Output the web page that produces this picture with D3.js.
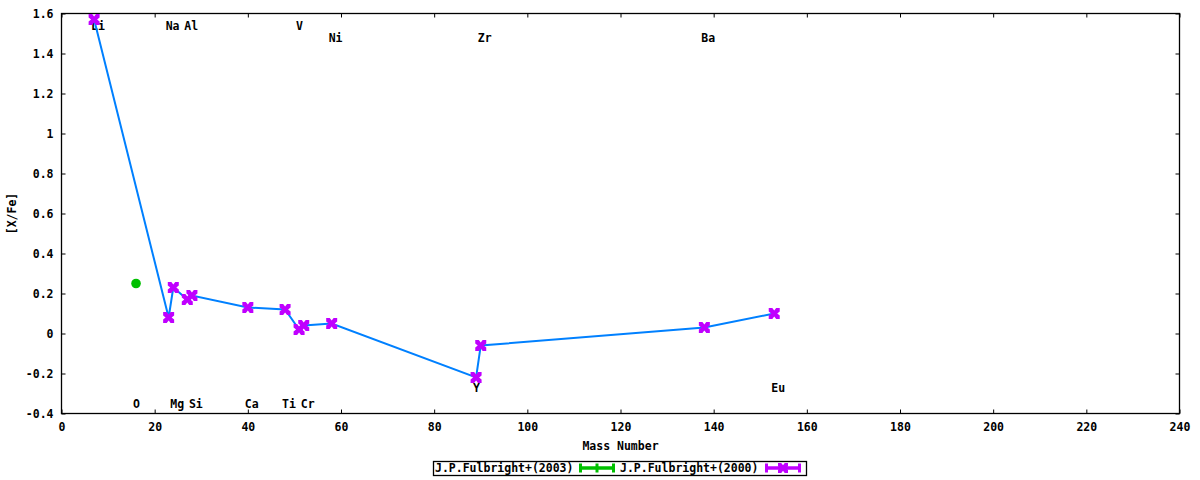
<!DOCTYPE html>
<html>
<head>
<meta charset="utf-8">
<script src="https://cdn.jsdelivr.net/npm/d3@7"></script>
<style>
  body { margin: 0; background: #fff; }
  text { font-family: "DejaVu Sans Mono", monospace; font-weight: bold; font-size: 11.5px; fill: #000; }
</style>
</head>
<body>
<script>
// ---- data ----
var fulb2003Mass = [16];
var fulb2003Value = [0.25];

var fulb2000Mass = [7, 23, 24, 27, 28, 40, 48, 51, 52, 58, 89, 90, 138, 153];
var fulb2000Value = [1.57, 0.08, 0.23, 0.17, 0.19, 0.13, 0.12, 0.02, 0.04, 0.05, -0.22, -0.06, 0.03, 0.10];

// element labels (name, mass, label y in data units)
var labelNames = ['Li', 'O', 'Na', 'Mg', 'Al', 'Si', 'Ca', 'Ti', 'V', 'Cr', 'Ni', 'Y', 'Zr', 'Ba', 'Eu'];
var labelMass  = [7, 16, 23, 24, 27, 28, 40, 48, 51, 52, 58, 89, 90, 138, 153];
var labelY     = [1.54, -0.35, 1.54, -0.35, 1.54, -0.35, -0.35, -0.35, 1.54, -0.35, 1.48, -0.27, 1.48, 1.48, -0.27];

var xTicks = [0, 20, 40, 60, 80, 100, 120, 140, 160, 180, 200, 220, 240];
var yTicks = [-0.4, -0.2, 0, 0.2, 0.4, 0.6, 0.8, 1, 1.2, 1.4, 1.6];

var legendNames = ['J.P.Fulbright+(2003)', 'J.P.Fulbright+(2000)'];

var GREEN = '#00c000';
var PURPLE = '#c000ff';
var BLUE = '#0080ff';

var W = 1200, H = 480;
var plotL = 61.5, plotR = 1179.5, plotT = 13.5, plotB = 413.5;

var x = d3.scaleLinear().domain([0, 240]).range([plotL, plotR]);
var y = d3.scaleLinear().domain([-0.4, 1.6]).range([plotB, plotT]);

var svg = d3.select('body').append('svg')
  .attr('width', W)
  .attr('height', H);

// ---- axes (gnuplot style, inward ticks, mirrored) ----
var TICK = 4;
function clean(g) {
  g.select('.domain').remove();
  g.selectAll('text').attr('font-size', null).attr('font-family', null).attr('fill', null);
}
svg.append('g')
  .attr('transform', 'translate(0,' + plotB + ')')
  .call(d3.axisBottom(x).tickValues(xTicks).tickSize(-TICK).tickPadding(9).tickFormat(d3.format('d')))
  .call(clean);
svg.append('g')
  .attr('transform', 'translate(0,' + plotT + ')')
  .call(d3.axisTop(x).tickValues(xTicks).tickSize(-TICK).tickFormat(''))
  .call(clean);
svg.append('g')
  .attr('transform', 'translate(' + plotL + ',0)')
  .call(d3.axisLeft(y).tickValues(yTicks).tickSize(-TICK).tickPadding(8).tickFormat(function(d) { return String(+d.toFixed(1)); }))
  .call(clean);
svg.append('g')
  .attr('transform', 'translate(' + plotR + ',0)')
  .call(d3.axisRight(y).tickValues(yTicks).tickSize(-TICK).tickFormat(''))
  .call(clean);

svg.selectAll('.tick line').attr('stroke', '#000');

svg.append('rect')
  .attr('x', plotL).attr('y', plotT)
  .attr('width', plotR - plotL).attr('height', plotB - plotT)
  .attr('fill', 'none').attr('stroke', '#000').attr('stroke-width', 1.3);

// axis titles
svg.append('text')
  .attr('x', (plotL + plotR) / 2).attr('y', 450)
  .attr('text-anchor', 'middle')
  .text('Mass Number');
svg.append('text')
  .attr('transform', 'translate(16,' + ((plotT + plotB) / 2) + ') rotate(-90)')
  .attr('text-anchor', 'middle')
  .text('[X/Fe]');

// ---- element labels ----
svg.selectAll('.elem')
  .data(labelNames)
  .enter().append('text')
  .attr('class', 'elem')
  .attr('x', function(d, i) { return x(labelMass[i]) - 3; })
  .attr('y', function(d, i) { return y(labelY[i]) + 4; })
  .text(function(d) { return d; });

// ---- marker shapes ----
// filled square with notched sides, like gnuplot's solid cross
function xMarker(cx, cy, s) {
  var a = s, b = s * 0.35, c = s * 0.55;
  var pts = [[-a, -a], [-b, -a], [0, -c], [b, -a], [a, -a], [a, -b], [c, 0], [a, b], [a, a], [b, a], [0, c], [-b, a], [-a, a], [-a, b], [-c, 0], [-a, -b]];
  return 'M' + pts.map(function(p) { return (cx + p[0]) + ',' + (cy + p[1]); }).join('L') + 'Z';
}

// ---- Fulbright 2000 line + points ----
var pts2000 = fulb2000Mass.map(function(m, i) { return [m, fulb2000Value[i]]; });
svg.append('path')
  .datum(pts2000)
  .attr('fill', 'none')
  .attr('stroke', BLUE)
  .attr('stroke-width', 2)
  .attr('d', d3.line().x(function(d) { return x(d[0]); }).y(function(d) { return y(d[1]); }));

svg.selectAll('.p2000')
  .data(pts2000)
  .enter().append('path')
  .attr('class', 'p2000')
  .attr('fill', PURPLE)
  .attr('d', function(d) { return xMarker(x(d[0]), y(d[1]), 5.5); });

// ---- Fulbright 2003 point ----
svg.selectAll('.p2003')
  .data(fulb2003Mass)
  .enter().append('circle')
  .attr('class', 'p2003')
  .attr('cx', function(d) { return x(d); })
  .attr('cy', function(d, i) { return y(fulb2003Value[i]); })
  .attr('r', 4.8)
  .attr('fill', GREEN);

// ---- legend ----
var lg = svg.append('g');
lg.append('rect')
  .attr('x', 433.5).attr('y', 461.5).attr('width', 373).attr('height', 14)
  .attr('fill', 'none').attr('stroke', '#000').attr('stroke-width', 1.3);

function sample(x0, x1, yc, color, mid) {
  lg.append('line').attr('x1', x0).attr('x2', x1).attr('y1', yc).attr('y2', yc)
    .attr('stroke', color).attr('stroke-width', 3.5);
  [x0 + 1.5, x1 - 1.5].forEach(function(xx) {
    lg.append('line').attr('x1', xx).attr('x2', xx).attr('y1', yc - 4.5).attr('y2', yc + 4.5)
      .attr('stroke', color).attr('stroke-width', 3);
  });
  if (mid === 'bar') {
    lg.append('line').attr('x1', (x0 + x1) / 2).attr('x2', (x0 + x1) / 2).attr('y1', yc - 4.5).attr('y2', yc + 4.5)
      .attr('stroke', color).attr('stroke-width', 3);
  } else {
    lg.append('path').attr('fill', color).attr('d', xMarker((x0 + x1) / 2, yc, 5));
  }
}

lg.append('text').attr('x', 435).attr('y', 472).text(legendNames[0]);
sample(579, 615, 468, GREEN, 'bar');
lg.append('text').attr('x', 620).attr('y', 472).text(legendNames[1]);
sample(765, 801, 468, PURPLE, 'x');
</script>
</body>
</html>
